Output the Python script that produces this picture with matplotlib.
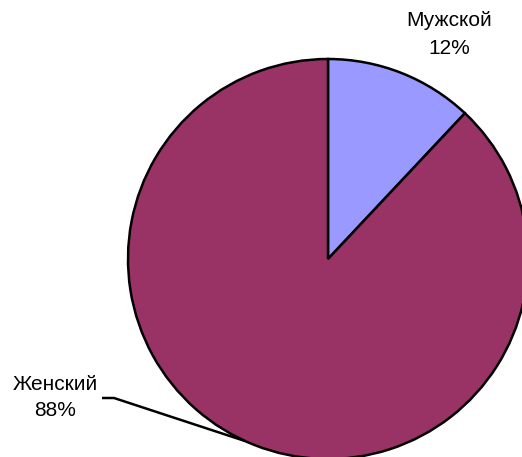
import matplotlib.pyplot as plt

# Распределение по полу
labels = ['Мужской', 'Женский']
shares = [12, 88]
colors = ['#9999FF', '#993366']

W, H = 522, 457

fig = plt.figure(figsize=(W / 100, H / 100), dpi=100)
ax = fig.add_axes([0, 0, 1, 1])

ax.pie(shares, colors=colors, startangle=90, counterclock=False,
       center=(328, H - 259), radius=200,
       wedgeprops=dict(edgecolor='black', linewidth=1.8))

ax.set_xlim(0, W)
ax.set_ylim(0, H)
ax.set_aspect('equal')
ax.axis('off')

font = dict(family='Liberation Sans', fontsize=15, ha='center', va='center')

# подписи долей
ax.text(449, H - 21, labels[0], **font)
ax.text(449, H - 49, f'{shares[0]}%', **font)
ax.text(55, H - 384, labels[1], **font)
ax.text(55, H - 411, f'{shares[1]}%', **font)

# выноска к большому сектору
ax.plot([102, 114, 245], [H - 398, H - 398, H - 441], color='black',
        linewidth=1.8, solid_capstyle='butt')

fig.savefig('out.png', dpi=100)
